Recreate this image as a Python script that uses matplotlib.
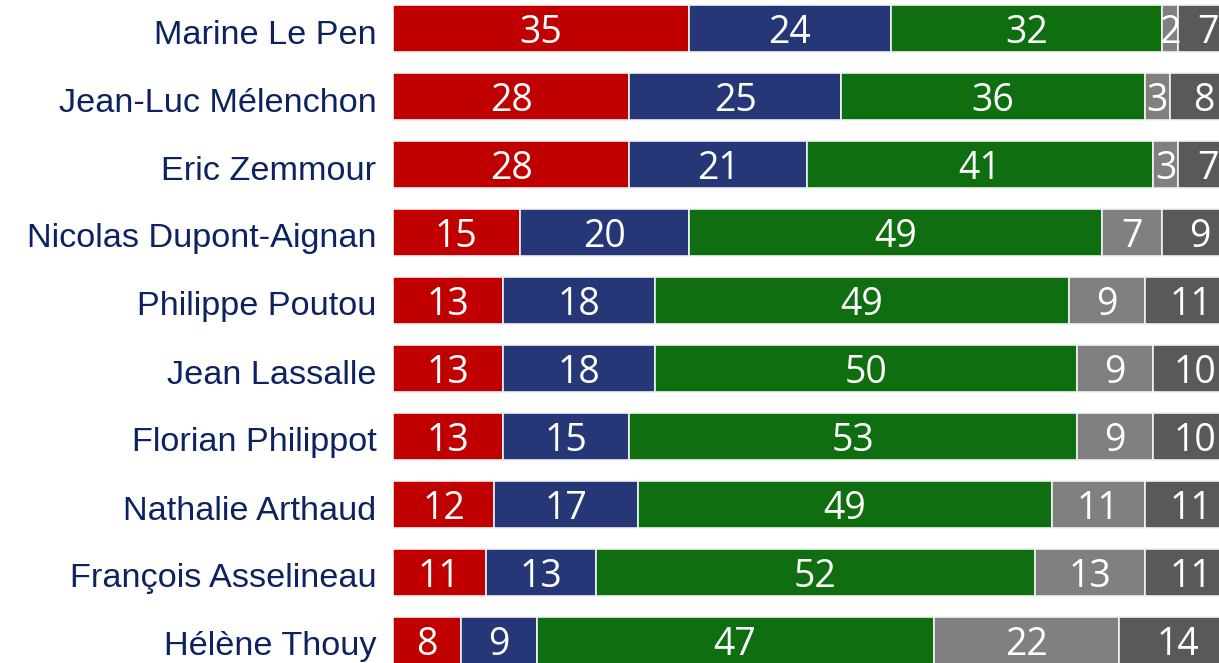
import matplotlib
matplotlib.use("Agg")
import matplotlib.pyplot as plt
import matplotlib.transforms as mtransforms
import numpy as np

candidates = [
    "Marine Le Pen",
    "Jean-Luc Mélenchon",
    "Eric Zemmour",
    "Nicolas Dupont-Aignan",
    "Philippe Poutou",
    "Jean Lassalle",
    "Florian Philippot",
    "Nathalie Arthaud",
    "François Asselineau",
    "Hélène Thouy",
]
red_share = [35, 28, 28, 15, 13, 13, 13, 12, 11, 8]
blue_share = [24, 25, 21, 20, 18, 18, 15, 17, 13, 9]
green_share = [32, 36, 41, 49, 49, 50, 53, 49, 52, 47]
grey_share = [2, 3, 3, 7, 9, 9, 9, 11, 13, 22]
dark_share = [7, 8, 7, 9, 11, 10, 10, 11, 11, 14]

series = [red_share, blue_share, green_share, grey_share, dark_share]
colors = ["#C00000", "#263777", "#0E6E10", "#808080", "#595959"]

W, H = 1219, 663
fig = plt.figure(figsize=(W / 100, H / 100), dpi=100)
ax = fig.add_axes([393 / W, 0, 1 - 393 / W, 1])

y = np.arange(len(candidates))
left = np.zeros(len(candidates))
for vals, col in zip(series, colors):
    vals = np.array(vals, dtype=float)
    ax.barh(y, vals, left=left, height=0.69, color=col,
            edgecolor="#F2F2F2", linewidth=1.2)
    for yi, l, v in zip(y, left, vals):
        ax.text(l + v / 2, yi + 0.06, f"{int(v)}", ha="center", va="center",
                color="white", fontsize=27, family="Open Sans")
    left += vals

ax.set_xlim(0, 97.8)
ax.set_ylim(9 + 22.5 / 68, -28.5 / 68)
ax.set_yticks(y)
ax.set_yticklabels(candidates, fontsize=24.7, family="Liberation Sans",
                   color="#0D2260")
ax.tick_params(axis="y", length=0, pad=12)
ax.tick_params(axis="x", bottom=False, labelbottom=False)
shift = mtransforms.ScaledTranslation(0, -3 / 100, fig.dpi_scale_trans)
for lbl in ax.get_yticklabels():
    lbl.set_transform(lbl.get_transform() + shift)
for s in ax.spines.values():
    s.set_visible(False)

fig.savefig("out.png", dpi=100)
